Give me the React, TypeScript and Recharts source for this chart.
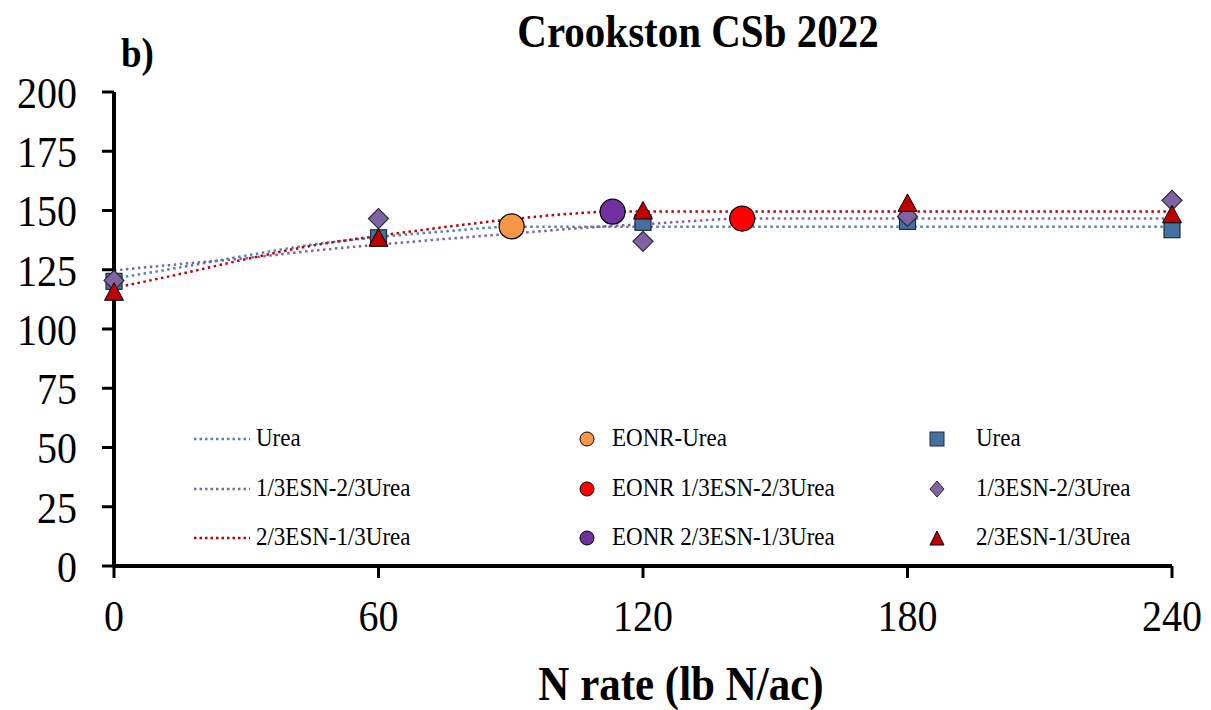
import React from 'react';
import { ComposedChart, Line, Scatter, XAxis, YAxis, Legend } from 'recharts';

// measured yields (bu/ac) at each N rate
const nRates = [0, 60, 120, 180, 240];
const ureaYield = [120.1, 138.5, 145.0, 145.4, 141.9];
const esn13Yield = [120.5, 146.6, 137.0, 147.5, 154.3];
const esn23Yield = [115.7, 138.5, 150.0, 153.2, 148.4];

// EONR points: Urea, 1/3ESN-2/3Urea, 2/3ESN-1/3Urea
const eonrRates = [90.2, 142.5, 113.1];
const eonrYields = [143.3, 146.6, 149.5];

// fitted response curves
const fitRates = [0, 15, 30, 45, 60, 75, 90, 105, 113, 120, 130, 142.5, 180, 240];
const ureaFit = [121.3, 126.0, 131.0, 135.6, 138.8, 141.2, 143.1, 143.1, 143.1, 143.1, 143.1, 143.1, 143.1, 143.1];
const esn13Fit = [124.7, 127.4, 129.9, 133.0, 135.6, 138.0, 140.2, 142.5, 143.5, 144.2, 145.4, 146.6, 146.6, 146.6];
const esn23Fit = [117.3, 123.2, 129.5, 135.2, 139.3, 143.0, 146.3, 148.8, 149.6, 149.6, 149.6, 149.6, 149.6, 149.6];

const xTicks = [0, 60, 120, 180, 240];
const yTicks = [0, 25, 50, 75, 100, 125, 150, 175, 200];

const BLUE = '#4F81BD';
const SQ = '#44719F';
const PURPLE = '#8064A2';
const RED = '#C00000';

const toPts = (xs: number[], ys: number[]) => xs.map((x, i) => ({ x, y: ys[i] }));

const ureaPts = toPts(nRates, ureaYield);
const esn13Pts = toPts(nRates, esn13Yield);
const esn23Pts = toPts(nRates, esn23Yield);
const ureaCurve = toPts(fitRates, ureaFit);
const esn13Curve = toPts(fitRates, esn13Fit);
const esn23Curve = toPts(fitRates, esn23Fit);
const eonrUrea = [{ x: eonrRates[0], y: eonrYields[0] }];
const eonr13 = [{ x: eonrRates[1], y: eonrYields[1] }];
const eonr23 = [{ x: eonrRates[2], y: eonrYields[2] }];

const FONT = '"Liberation Serif", "Times New Roman", serif';
const STRETCH = 'scale(1,1.12)';

const square = (p: any) => (
  <rect x={p.cx - 8} y={p.cy - 8} width={16} height={16} fill={SQ} stroke="#1F2D3D" strokeWidth={1.2} />
);
const diamond = (p: any) => (
  <polygon
    points={`${p.cx},${p.cy - 10} ${p.cx + 10},${p.cy} ${p.cx},${p.cy + 10} ${p.cx - 10},${p.cy}`}
    fill={PURPLE}
    stroke="#2A2A3A"
    strokeWidth={1.2}
  />
);
const triangle = (p: any) => (
  <polygon
    points={`${p.cx},${p.cy - 9} ${p.cx + 9.5},${p.cy + 8.5} ${p.cx - 9.5},${p.cy + 8.5}`}
    fill={RED}
    stroke="#000"
    strokeWidth={1}
  />
);
const circle = (fill: string) => (p: any) => (
  <circle cx={p.cx} cy={p.cy} r={12.5} fill={fill} stroke="#000" strokeWidth={1.2} />
);

const XTick = (p: any) => (
  <g transform={`translate(${p.x},${p.y})`}>
    <text textAnchor="middle" dy="0.71em" transform={STRETCH} fontFamily={FONT} fontSize={40} fill="#000">
      {p.payload.value}
    </text>
  </g>
);
const YTick = (p: any) => (
  <g transform={`translate(${p.x},${p.y})`}>
    <text textAnchor="end" dy="0.355em" transform={STRETCH} fontFamily={FONT} fontSize={40} fill="#000">
      {p.payload.value}
    </text>
  </g>
);

const legendRows = ['Urea', '1/3ESN-2/3Urea', '2/3ESN-1/3Urea'];
const legendLineColors = [BLUE, PURPLE, RED];
const legendEonr = ['EONR-Urea', 'EONR 1/3ESN-2/3Urea', 'EONR 2/3ESN-1/3Urea'];
const legendEonrColors = ['#F79646', '#FF0000', '#7030A0'];
const rowY = [439, 489, 538];

function LegendBox() {
  const marks = [
    (y: number) => <rect x={930} y={y - 7} width={14} height={14} fill={SQ} stroke="#1F2D3D" />,
    (y: number) => (
      <polygon points={`937,${y - 8} 944,${y} 937,${y + 8} 930,${y}`} fill={PURPLE} stroke="#2A2A3A" />
    ),
    (y: number) => <polygon points={`937,${y - 7} 944,${y + 7} 930,${y + 7}`} fill={RED} stroke="#000" />,
  ];
  const label = (x: number, y: number, s: string) => (
    <g transform={`translate(${x},${y + 7})`}>
      <text transform="scale(1,1.1)">{s}</text>
    </g>
  );
  return (
    <svg width={1211} height={710} style={{ position: 'absolute', left: 0, top: 0, pointerEvents: 'none' }}>
      {legendRows.map((name, i) => (
        <g key={name} fontFamily={FONT} fontSize={23} fill="#000">
          <line x1={194} x2={250} y1={rowY[i]} y2={rowY[i]} stroke={legendLineColors[i]} strokeWidth={2.5} strokeDasharray="2.5 3" />
          {label(256, rowY[i], name)}
          <circle cx={587} cy={rowY[i]} r={7} fill={legendEonrColors[i]} stroke="#000" />
          {label(612, rowY[i], legendEonr[i])}
          {marks[i](rowY[i])}
          {label(976, rowY[i], name)}
        </g>
      ))}
    </svg>
  );
}

export default function App() {
  return (
    <div style={{ position: 'absolute', left: 0, top: 0, width: 1211, height: 710, background: '#fff' }}>
      <ComposedChart width={1211} height={710} margin={{ top: 92, right: 39, bottom: 0, left: 0 }}>
        <XAxis
          type="number"
          dataKey="x"
          domain={[0, 240]}
          ticks={xTicks}
          axisLine={{ stroke: '#000', strokeWidth: 4 }}
          tickLine={{ stroke: '#000', strokeWidth: 3 }}
          tickSize={12}
          tickMargin={21}
          height={144}
          tick={<XTick />}
        />
        <YAxis
          type="number"
          dataKey="y"
          domain={[0, 200]}
          ticks={yTicks}
          width={114}
          axisLine={{ stroke: '#000', strokeWidth: 4 }}
          tickLine={{ stroke: '#000', strokeWidth: 3 }}
          tickSize={12}
          tickMargin={25}
          tick={<YTick />}
        />
        <Legend verticalAlign="middle" layout="horizontal" content={() => null} />
        <Line data={ureaCurve} dataKey="y" type="monotone" stroke={BLUE} strokeWidth={2.5} strokeDasharray="2.5 3.5" dot={false} isAnimationActive={false} />
        <Line data={esn13Curve} dataKey="y" type="monotone" stroke={PURPLE} strokeWidth={2.5} strokeDasharray="2.5 3.5" dot={false} isAnimationActive={false} />
        <Line data={esn23Curve} dataKey="y" type="monotone" stroke={RED} strokeWidth={2.5} strokeDasharray="2.5 3.5" dot={false} isAnimationActive={false} />
        <Scatter data={ureaPts} dataKey="y" shape={square} isAnimationActive={false} />
        <Scatter data={esn13Pts} dataKey="y" shape={diamond} isAnimationActive={false} />
        <Scatter data={esn23Pts} dataKey="y" shape={triangle} isAnimationActive={false} />
        <Scatter data={eonrUrea} dataKey="y" shape={circle('#F79646')} isAnimationActive={false} />
        <Scatter data={eonr13} dataKey="y" shape={circle('#FF0000')} isAnimationActive={false} />
        <Scatter data={eonr23} dataKey="y" shape={circle('#7030A0')} isAnimationActive={false} />
      </ComposedChart>
      <LegendBox />
      <svg width={1211} height={710} style={{ position: 'absolute', left: 0, top: 0, pointerEvents: 'none' }}>
        <g transform="translate(698,47)">
          <text textAnchor="middle" transform={STRETCH} fontFamily={FONT} fontWeight="bold" fontSize={41}>
            Crookston CSb 2022
          </text>
        </g>
        <g transform="translate(121,67)">
          <text transform={STRETCH} fontFamily={FONT} fontWeight="bold" fontSize={37}>
            b)
          </text>
        </g>
        <g transform="translate(681,700)">
          <text textAnchor="middle" transform={STRETCH} fontFamily={FONT} fontWeight="bold" fontSize={43}>
            N rate (lb N/ac)
          </text>
        </g>
      </svg>
    </div>
  );
}
